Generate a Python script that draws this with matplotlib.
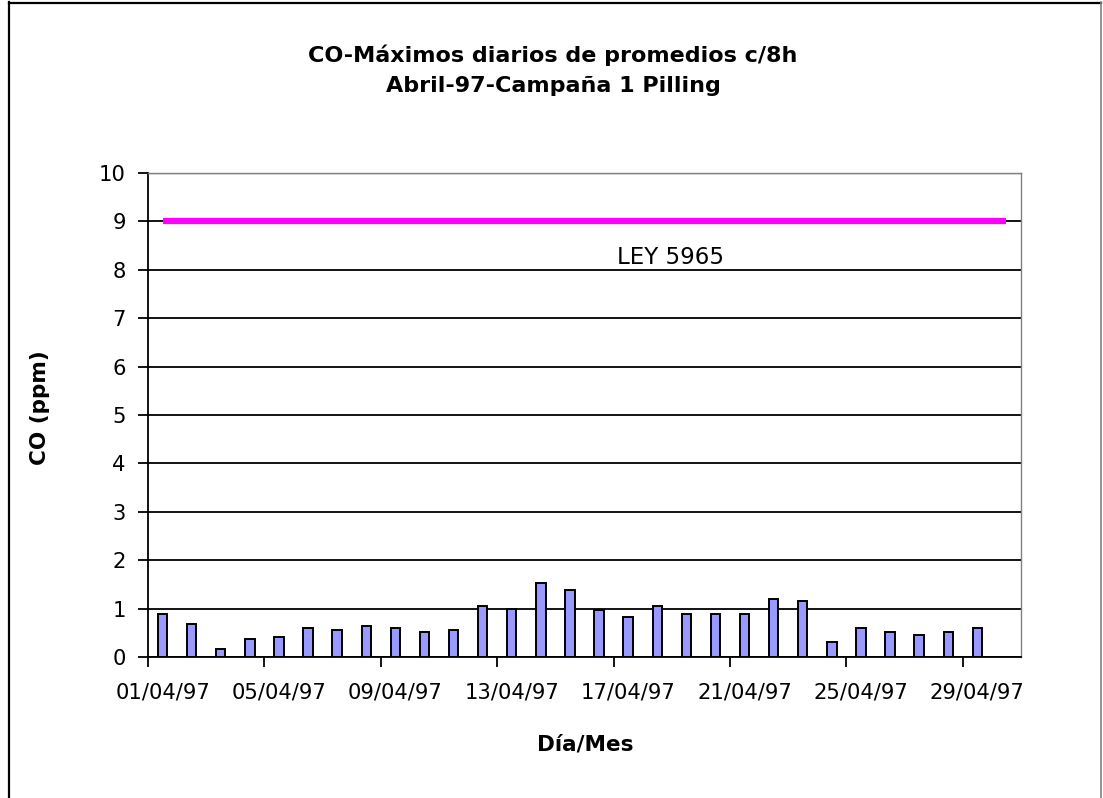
#!/usr/bin/env python3
"""CO daily maxima of 8h averages, April 1997 (Pilling campaign) vs LEY 5965 limit."""

import matplotlib
matplotlib.use('Agg')
import matplotlib.pyplot as plt
from matplotlib.lines import Line2D
from matplotlib.ticker import FixedLocator

# day of month for each bar (01/04/97 .. 29/04/97)
days = list(range(1, 30))
co_max_ppm = [0.88, 0.69, 0.17, 0.37, 0.41, 0.60, 0.55, 0.64, 0.59, 0.51,
              0.55, 1.06, 1.00, 1.52, 1.38, 0.97, 0.83, 1.06, 0.88, 0.88,
              0.88, 1.19, 1.15, 0.32, 0.59, 0.51, 0.46, 0.51, 0.59]

# legal limit line spans the whole month
limit_days = list(range(1, 31))
limit_ppm = [9] * len(limit_days)
limit_label = "LEY 5965"

tick_days = [1, 5, 9, 13, 17, 21, 25, 29]
tick_labels = ["01/04/97", "05/04/97", "09/04/97", "13/04/97",
               "17/04/97", "21/04/97", "25/04/97", "29/04/97"]

title = "CO-Máximos diarios de promedios c/8h\nAbril-97-Campaña 1 Pilling"
xlabel = "Día/Mes"
ylabel = "CO (ppm)"

plt.rcParams['font.family'] = ['DejaVu Sans']

W, H = 1103, 798
fig = plt.figure(figsize=(W / 100, H / 100), dpi=100)
fig.patch.set_facecolor('white')

# plot area in pixels: x 148..1021, y 173..657
ax = fig.add_axes([148 / W, 1 - 657 / H, (1021 - 148) / W, (657 - 173) / H])

ax.bar(days, co_max_ppm, width=0.32, color='#9999FF', edgecolor='black',
       linewidth=1.4, zorder=3)
ax.plot(limit_days, limit_ppm, color='#FF00FF', lw=4.5, zorder=4,
        solid_capstyle='butt')
ax.text(18.45, 8.25, limit_label, fontsize=16.5, ha='center', va='center',
        color='black', zorder=5)

ax.set_xlim(0.5, 30.5)
ax.set_ylim(0, 10)

# labels centred on day slots, tick marks on slot boundaries
ax.set_xticks(tick_days)
ax.set_xticklabels(tick_labels)
ax.xaxis.set_minor_locator(FixedLocator([d - 0.5 for d in tick_days]))
ax.tick_params(axis='x', which='major', length=0, pad=18, labelsize=15.2)
ax.tick_params(axis='x', which='minor', length=7, width=1.3, direction='out',
               color='black')

ax.set_yticks(range(0, 11))
ax.tick_params(axis='y', length=7, width=1.3, direction='out', pad=9,
               labelsize=15.2, color='black')

ax.yaxis.grid(True, color='black', lw=1.3, zorder=1)
ax.get_ygridlines()[-1].set_color('#808080')
ax.get_ygridlines()[-1].set_linewidth(1.0)
ax.set_axisbelow(True)

ax.spines['left'].set_color('black')
ax.spines['left'].set_linewidth(1.3)
ax.spines['bottom'].set_color('black')
ax.spines['bottom'].set_linewidth(1.3)
for s in ('top', 'right'):
    ax.spines[s].set_color('#808080')
    ax.spines[s].set_linewidth(1.0)

fig.text(553 / W, 1 - 70 / H, title, ha='center', va='center',
         fontsize=16, fontweight='bold', linespacing=1.6)
fig.text(585 / W, 1 - 745 / H, xlabel, ha='center', va='center',
         fontsize=15.5, fontweight='bold')
fig.text(40 / W, 1 - 408 / H, ylabel, ha='center', va='center',
         fontsize=15.5, fontweight='bold', rotation=90)

# outer chart frame (left/top dark, right grey)
fig.add_artist(Line2D([9 / W, 9 / W], [0, 1 - 2 / H], color='black', lw=1.6))
fig.add_artist(Line2D([9 / W, 1101 / W], [1 - 2.5 / H, 1 - 2.5 / H],
                      color='black', lw=1.6))
fig.add_artist(Line2D([1101 / W, 1101 / W], [0, 1 - 2 / H], color='#808080',
                      lw=1.2))

fig.savefig("out.png", dpi=100)
